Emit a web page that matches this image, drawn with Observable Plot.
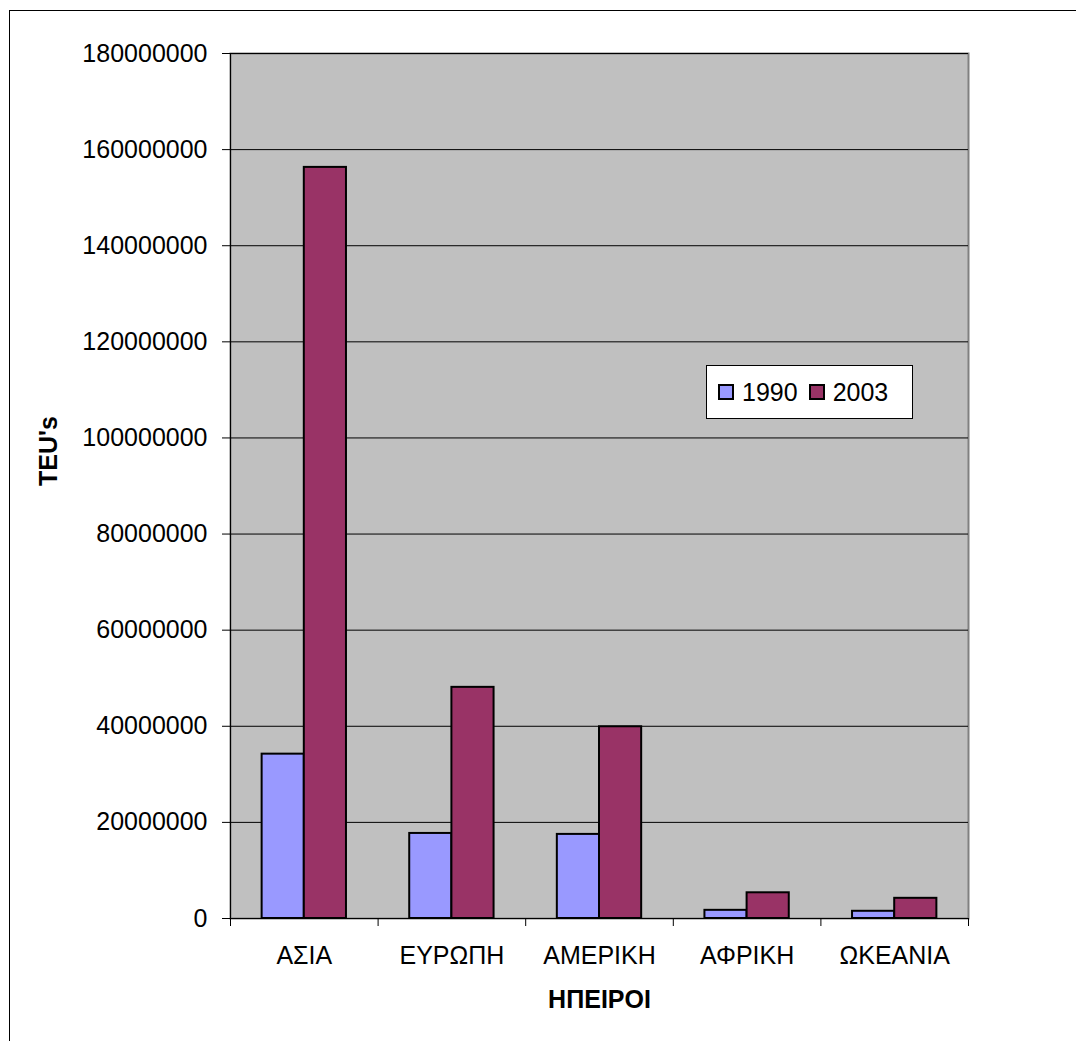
<!DOCTYPE html>
<html>
<head>
<meta charset="utf-8">
<script src="https://cdn.jsdelivr.net/npm/d3@7"></script>
<script src="https://cdn.jsdelivr.net/npm/@observablehq/plot@0.6"></script>
<style>
  html, body { margin: 0; padding: 0; background: #fff; overflow: hidden; width: 1076px; height: 1041px; }
  #page { position: relative; width: 1076px; height: 1041px; overflow: hidden; font-family: "Liberation Sans", Arial, sans-serif; }
  #sheet { position: absolute; left: 9px; top: 10px; width: 1300px; height: 1300px; border-left: 1px solid #000; border-top: 1px solid #000; }
  #chart { position: absolute; left: 0; top: 0; }
  #legend { position: absolute; left: 706px; top: 365px; width: 207px; height: 54px; box-sizing: border-box;
            background: #fff; border: 1px solid #000; display: flex; align-items: center; font-size: 25px; }
  .item { display: flex; align-items: center; }
  .swatch { width: 12px; height: 12px; border: 2px solid #000; margin-left: 11px; margin-right: 8px; }
</style>
</head>
<body>
<div id="page">
  <div id="sheet"></div>
  <div id="chart"></div>
  <div id="legend"></div>
</div>
<script>
// Container throughput by continent (TEU), 1990 vs 2003
const categories = ["ΑΣΙΑ", "ΕΥΡΩΠΗ", "ΑΜΕΡΙΚΗ", "ΑΦΡΙΚΗ", "ΩΚΕΑΝΙΑ"];
const years = ["1990", "2003"];
const teu1990 = [34200000, 17700000, 17500000, 1700000, 1500000];
const teu2003 = [156300000, 48100000, 39900000, 5350000, 4200000];
const yTicks = [0, 20000000, 40000000, 60000000, 80000000, 100000000, 120000000, 140000000, 160000000, 180000000];
const colors = ["#9999ff", "#993366"];

// Clustered columns: each category occupies one unit; gap width 150% of a column
const gapWidth = 1.5;
const colWidth = 1 / (years.length + gapWidth);

const series = [teu1990, teu2003];
const rows = [];
categories.forEach((cat, i) => {
  years.forEach((year, j) => {
    rows.push({cat, year, value: series[j][i], i, j});
  });
});

const boundaries = d3.range(0, categories.length + 1);
const centers = categories.map((_, i) => i + 0.5);

const chart = Plot.plot({
  width: 1076,
  height: 1041,
  marginLeft: 230,
  marginRight: 108,
  marginTop: 53,
  marginBottom: 123,
  style: {fontFamily: "'Liberation Sans', Arial, sans-serif", fontSize: "25px", background: "transparent", color: "#000"},
  x: {domain: [0, categories.length]},
  y: {domain: [0, 180000000]},
  color: {domain: years, range: colors},
  marks: [
    Plot.frame({fill: "#c0c0c0", stroke: "#808080", strokeWidth: 2}),
    Plot.gridY(yTicks, {stroke: "#000", strokeOpacity: 1, strokeWidth: 1}),
    Plot.rect(rows, {
      x1: d => d.i + gapWidth * colWidth / 2 + d.j * colWidth,
      x2: d => d.i + gapWidth * colWidth / 2 + (d.j + 1) * colWidth,
      y1: 0,
      y2: "value",
      fill: "year",
      stroke: "#000",
      strokeWidth: 2
    }),
    Plot.ruleX([0], {stroke: "#000", strokeWidth: 1}),
    Plot.ruleY([0], {stroke: "#000", strokeWidth: 1}),
    Plot.axisY(yTicks, {tickSize: 8, tickPadding: 15, tickFormat: d => String(d), label: null, stroke: "#000"}),
    Plot.axisX(boundaries, {tickSize: 8, tickFormat: () => "", label: null, stroke: "#000"}),
    Plot.axisX(centers, {tickSize: 0, tickPadding: 28, tickFormat: d => categories[Math.round(d - 0.5)], label: null}),
    Plot.text(["ΗΠΕΙΡΟΙ"], {frameAnchor: "bottom", dy: 89, text: d => d, fontWeight: "bold", fontSize: 25}),
    Plot.text(["TEU's"], {frameAnchor: "left", dx: -182, rotate: -90, text: d => d, fontWeight: "bold", fontSize: 25})
  ]
});
document.getElementById("chart").appendChild(chart);

// Legend
const legend = document.getElementById("legend");
years.forEach((year, j) => {
  const item = document.createElement("div");
  item.className = "item";
  const sw = document.createElement("span");
  sw.className = "swatch";
  sw.style.background = colors[j];
  const label = document.createElement("span");
  label.textContent = year;
  item.appendChild(sw);
  item.appendChild(label);
  legend.appendChild(item);
});
</script>
</body>
</html>
